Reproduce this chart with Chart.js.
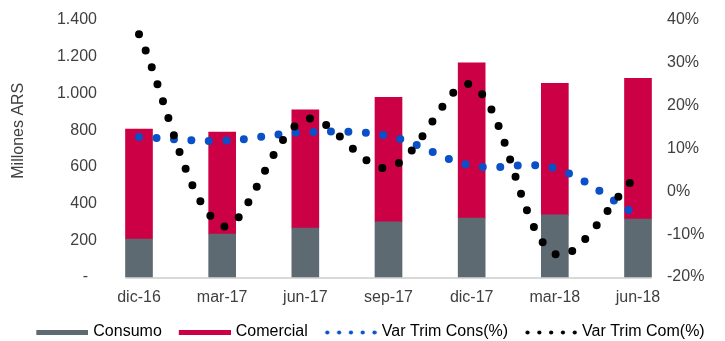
<!DOCTYPE html>
<html>
<head>
<meta charset="utf-8">
<script src="https://cdn.jsdelivr.net/npm/chart.js@4"></script>
<style>
  html, body { margin: 0; padding: 0; background: #fff; }
  #wrap { width: 725px; height: 341px; }
</style>
</head>
<body>
<div id="wrap"><canvas id="chart" width="725" height="341"></canvas></div>
<script>
// Data
const categories = ['dic-16', 'mar-17', 'jun-17', 'sep-17', 'dic-17', 'mar-18', 'jun-18'];
const consumo = [207, 234, 267, 301, 321, 338, 316];
const comercial = [599, 556, 643, 678, 846, 717, 766];
const varTrimCons = [12.7, 11.8, 13.8, 12.9, 6.0, 5.4, -5.7];
const varTrimCom = [36.7, -8.0, 16.8, 5.5, 24.8, -14.6, 4.0];
const leftTicks = [0, 200, 400, 600, 800, 1000, 1200, 1400];
const rightTicks = [-20, -10, 0, 10, 20, 30, 40];

const GRAY = '#5e6a72';
const RED = '#cc0044';
const BLUE = '#0a50c8';
const BLACK = '#000000';
const TEXT = '#404040';
const FONT = "'Liberation Sans', Arial, sans-serif";

// little legend swatches drawn on canvases
function swatch(kind, color) {
    const c = document.createElement('canvas');
    c.width = 71; c.height = 10;
    const g = c.getContext('2d');
    g.fillStyle = color;
    if (kind === 'bar') {
        g.fillRect(19, 3, 52, 5);
    } else {
        for (let i = 0; i < 5; i++) {
            g.beginPath();
            g.arc(21.5 + i * 11.8, 5.5, 2.1, 0, Math.PI * 2);
            g.fill();
        }
    }
    return c;
}

const legendItems = [
    { text: 'Consumo', img: swatch('bar', GRAY), ds: 0 },
    { text: 'Comercial', img: swatch('bar', RED), ds: 1 },
    { text: 'Var Trim Cons(%)', img: swatch('dots', BLUE), ds: 2 },
    { text: 'Var Trim Com(%)', img: swatch('dots', BLACK), ds: 3 }
];

// light gray base line spanning first to last bar
const baseLine = {
    id: 'baseLine',
    beforeDatasetsDraw(chart) {
        const meta = chart.getDatasetMeta(0);
        if (!meta.data.length) return;
        const first = meta.data[0], last = meta.data[meta.data.length - 1];
        const x0 = first.x - first.width / 2;
        const x1 = last.x + last.width / 2;
        const ctx = chart.ctx;
        ctx.save();
        ctx.fillStyle = '#d9d9d9';
        ctx.fillRect(x0, chart.chartArea.bottom, x1 - x0, 2);
        ctx.restore();
    }
};

const fmtThousands = v => {
    if (v === 0) return '-  ';
    return String(v).replace(/\B(?=(\d{3})+(?!\d))/g, '.');
};

new Chart(document.getElementById('chart'), {
    type: 'bar',
    data: {
        labels: categories,
        datasets: [
            { label: 'Consumo', data: consumo, backgroundColor: GRAY, stack: 's', order: 2, barThickness: 27, clip: false, yAxisID: 'y' },
            { label: 'Comercial', data: comercial, backgroundColor: RED, stack: 's', order: 2, barThickness: 27, clip: false, yAxisID: 'y' },
            {
                type: 'line', label: 'Var Trim Cons(%)', data: varTrimCons, yAxisID: 'y1', order: 1,
                borderColor: BLUE, borderWidth: 8, borderDash: [0, 17.5], borderCapStyle: 'round',
                pointRadius: 0, tension: 0.35, fill: false, clip: false
            },
            {
                type: 'line', label: 'Var Trim Com(%)', data: varTrimCom, yAxisID: 'y1', order: 0,
                borderColor: BLACK, borderWidth: 8, borderDash: [0, 17.8], borderCapStyle: 'round',
                pointRadius: 0, tension: 0.35, fill: false, clip: false
            }
        ]
    },
    options: {
        responsive: false,
        animation: false,
        layout: { padding: { top: 20, left: 0, right: 0, bottom: -9 } },
        font: { family: FONT, size: 16 },
        color: TEXT,
        plugins: {
            tooltip: { enabled: false },
            legend: {
                position: 'bottom',
                labels: {
                    usePointStyle: true,
                    pointStyleWidth: 65,
                    padding: 1,
                    color: TEXT,
                    font: { family: FONT, size: 16 },
                    generateLabels: () => legendItems.map(it => ({
                        text: it.text,
                        pointStyle: it.img,
                        fillStyle: 'transparent',
                        strokeStyle: 'transparent',
                        lineWidth: 0,
                        datasetIndex: it.ds,
                        hidden: false
                    }))
                }
            }
        },
        scales: {
            x: {
                offset: false,
                grid: { display: false, drawTicks: false },
                border: { display: false },
                ticks: { color: TEXT, font: { family: FONT, size: 16 }, padding: 11, maxRotation: 0 },
                afterFit: s => { s.height = 46; }
            },
            y: {
                position: 'left',
                stacked: true,
                min: 0, max: 1400,
                afterBuildTicks: s => { s.ticks = leftTicks.map(v => ({ value: v })); },
                grid: { display: false, drawTicks: true, tickLength: 40 },
                border: { display: false },
                ticks: { color: TEXT, font: { family: FONT, size: 16 }, padding: 2, callback: v => fmtThousands(v) },
                title: {
                    display: true,
                    text: '        Millones ARS',
                    color: TEXT,
                    font: { family: FONT, size: 16 },
                    padding: { top: 9.4, bottom: 0 }
                },
                afterFit: s => { s.width = 139; }
            },
            y1: {
                position: 'right',
                min: -20, max: 40,
                afterBuildTicks: s => { s.ticks = rightTicks.map(v => ({ value: v })); },
                grid: { display: false, drawTicks: true, tickLength: 27 },
                border: { display: false },
                ticks: { color: TEXT, font: { family: FONT, size: 16 }, padding: 2, callback: v => v + '%' },
                afterFit: s => { s.width = 87; }
            }
        }
    },
    plugins: [baseLine]
});
</script>
</body>
</html>
